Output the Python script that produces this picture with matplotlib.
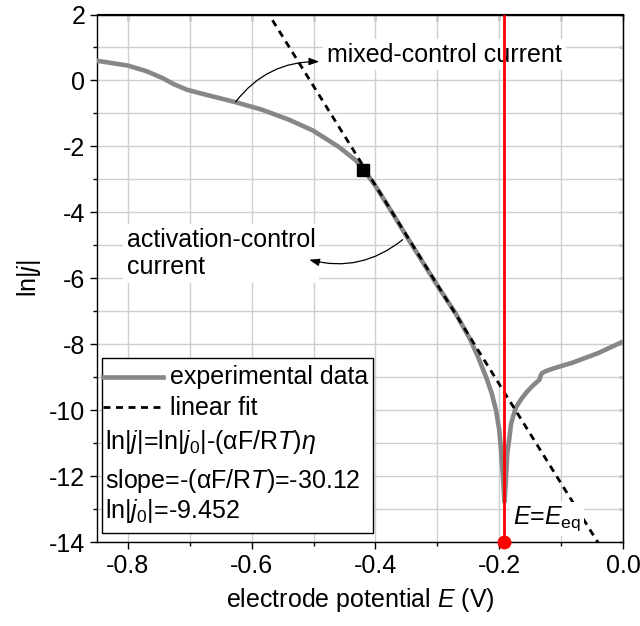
import numpy as np
import matplotlib
matplotlib.use("Agg")
import matplotlib.pyplot as plt
from matplotlib.ticker import MultipleLocator, FormatStrFormatter
from matplotlib.lines import Line2D
from matplotlib.patches import Rectangle

plt.rcParams['font.family'] = ['Liberation Sans', 'DejaVu Sans']
plt.rcParams['mathtext.fontset'] = 'custom'
plt.rcParams['mathtext.rm'] = 'Liberation Sans'
plt.rcParams['mathtext.it'] = 'Liberation Sans:italic'
plt.rcParams['mathtext.bf'] = 'Liberation Sans:bold'
plt.rcParams['axes.unicode_minus'] = False

# ---------------- data ----------------
E_exp = [-0.851, -0.80, -0.770, -0.745, -0.725, -0.705, -0.685, -0.664, -0.626,
         -0.583, -0.540,
         -0.501, -0.459, -0.432, -0.420, -0.400, -0.375, -0.350, -0.325, -0.300,
         -0.270, -0.248, -0.235, -0.221, -0.212, -0.205, -0.200, -0.197, -0.194,
         -0.1915, -0.1895, -0.187, -0.184, -0.181, -0.177, -0.173, -0.165, -0.156,
         -0.148, -0.140, -0.135, -0.133, -0.131, -0.125, -0.113, -0.08, -0.04, 0.0]
lnj_exp = [0.60, 0.45, 0.28, 0.08, -0.12, -0.28, -0.38, -0.48, -0.66,
           -0.89, -1.19,
           -1.52, -2.02, -2.42, -2.68, -3.20, -3.95, -4.72, -5.47, -6.22,
           -7.08, -7.82, -8.35, -9.01, -9.50, -10.02, -10.60, -11.24, -12.0,
           -12.78, -12.2, -11.3, -10.9, -10.43, -10.15, -9.92, -9.68, -9.46,
           -9.30, -9.16, -9.08, -8.95, -8.88, -8.82, -8.74, -8.55, -8.27, -7.92]

slope = -30.12
ln_j0 = -9.452
E_eq = -0.192
E_fit_range = [-0.60, -0.02]
E_mark, lnj_mark = -0.42, -2.72

# ---------------- figure ----------------
fig = plt.figure(figsize=(6.4, 6.26), dpi=100)
ax = fig.add_axes([97/640, 1-542/626, 526/640, 527.5/626])
ax.set_xlim(-0.85, 0.0)
ax.set_ylim(-14, 2)

ax.xaxis.set_major_locator(MultipleLocator(0.2))
ax.xaxis.set_minor_locator(MultipleLocator(0.1))
ax.xaxis.set_major_formatter(FormatStrFormatter('%.1f'))
ax.yaxis.set_major_locator(MultipleLocator(2))
ax.yaxis.set_minor_locator(MultipleLocator(1))
ax.grid(True, which='both', color='#cfcfcf', lw=1.0, zorder=0)
ax.set_axisbelow(True)
ax.tick_params(axis='both', which='major', direction='out', length=5, width=1,
               labelsize=18)
ax.tick_params(axis='both', which='minor', direction='out', length=3, width=1)
for s in ax.spines.values():
    s.set_linewidth(1.0)

secx = ax.secondary_xaxis('top')
secx.xaxis.set_major_locator(MultipleLocator(0.1))
secx.tick_params(direction='in', length=5, width=1, labeltop=False)
secy = ax.secondary_yaxis('right')
secy.yaxis.set_major_locator(MultipleLocator(1))
secy.tick_params(direction='in', length=3, width=1, labelright=False)

ax.set_xlabel(r'electrode potential $\mathit{E}$ (V)', fontsize=18, labelpad=6)
ax.set_ylabel(r'ln|$\mathit{j}$|', fontsize=18, labelpad=4)

# experimental data
ax.plot(E_exp, lnj_exp, color='#878787', lw=3.3, solid_capstyle='butt',
        solid_joinstyle='round', zorder=3)
# linear fit
E_fit = np.array(E_fit_range)
ax.plot(E_fit, ln_j0 + slope * (E_fit - E_eq), color='black', lw=2.0,
        ls=(0, (2.5, 2.0)), zorder=4)
# marker
ax.plot([E_mark], [lnj_mark], marker='s', color='black', ms=8, zorder=5)

# equilibrium line
ax.axvline(E_eq, color='red', lw=2.0, zorder=8)
ax.plot([E_eq], [-14], marker='o', color='red', ms=9, clip_on=False, zorder=9)

# annotations
arrow_kw = dict(arrowstyle='-|>,head_length=0.6,head_width=0.22',
                connectionstyle='arc3,rad=-0.25', color='black',
                lw=0.9, shrinkA=0, shrinkB=0)
ax.annotate('', xy=(-0.491, 0.57), xytext=(-0.626, -0.65),
            arrowprops=arrow_kw, zorder=7)
ax.text(-0.478, 0.57, 'mixed-control current', fontsize=18, va='baseline',
        ha='left', zorder=6,
        bbox=dict(boxstyle='square,pad=0.15', fc='white', ec='none'))

ax.annotate('', xy=(-0.507, -5.44), xytext=(-0.356, -4.83),
            arrowprops=arrow_kw, zorder=7)
ax.text(-0.802, -5.25, 'activation-control\ncurrent', fontsize=18, va='center',
        ha='left', linespacing=1.15, zorder=6,
        bbox=dict(boxstyle='square,pad=0.15', fc='white', ec='none'))

ax.text(-0.178, -13.45, r'$\mathit{E}$=$\mathit{E}_{\mathrm{eq}}$', fontsize=18,
        va='baseline', ha='left', zorder=6,
        bbox=dict(boxstyle='square,pad=0.1', fc='white', ec='none'))

# legend (manual)
T = ax.transAxes
ax.add_patch(Rectangle((0.0095, 0.017), 0.5152, 0.3318, transform=T,
                       fc='white', ec='black', lw=1.0, zorder=10))
ax.add_line(Line2D([0.0114, 0.1255], [0.3122, 0.3122], transform=T,
                   color='#878787', lw=3.3, zorder=11))
ax.add_line(Line2D([0.0114, 0.1255], [0.2553, 0.2553], transform=T,
                   color='black', lw=2.0, ls=(0, (2.5, 2.0)), zorder=11))
ax.text(0.1388, 0.299, 'experimental data', transform=T, fontsize=18,
        va='baseline', zorder=11)
ax.text(0.1388, 0.2408, 'linear fit', transform=T, fontsize=18,
        va='baseline', zorder=11)
ax.text(0.0152, 0.1757,
        r'ln|$\mathit{j}$|=ln|$\mathit{j}_{\mathrm{0}}$|-(αF/R$\mathit{T}$)$\eta$',
        transform=T, fontsize=18, va='baseline', zorder=11)
ax.text(0.0152, 0.1018, r'slope=-(αF/R$\mathit{T}$)=-30.12', transform=T,
        fontsize=18, va='baseline', zorder=11)
ax.text(0.0152, 0.0449, r'ln|$\mathit{j}_{\mathrm{0}}$|=-9.452', transform=T,
        fontsize=18, va='baseline', zorder=11)

fig.savefig('out.png', dpi=100)
